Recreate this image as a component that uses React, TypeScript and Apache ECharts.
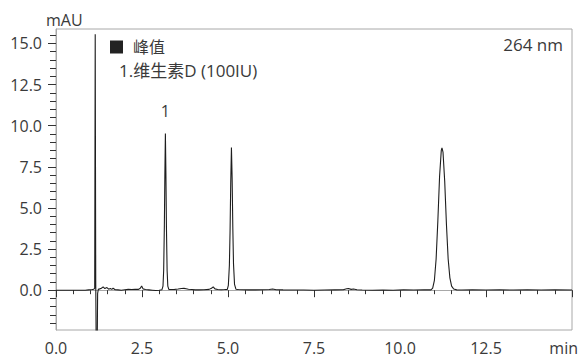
import React, { useEffect, useRef } from "react";
import * as echarts from "echarts";

// Retention time (min) and absorbance (mAU) of the chromatogram trace
const times = [
  0.0, 0.4, 0.85, 0.95, 1.05, 1.1, 1.125, 1.14, 1.155, 1.17, 1.18, 1.195, 1.21, 1.23,
  1.27, 1.32, 1.37, 1.42, 1.48, 1.53, 1.58, 1.62, 1.66, 1.72, 1.8, 1.9, 2.0, 2.1,
  2.2, 2.3, 2.4, 2.45, 2.49, 2.53, 2.6, 2.7, 2.8, 2.9, 3.0, 3.08, 3.11, 3.13,
  3.15, 3.165, 3.18, 3.195, 3.21, 3.23, 3.25, 3.28, 3.35, 3.45, 3.55, 3.65, 3.72, 3.78,
  3.85, 3.95, 4.05, 4.15, 4.3, 4.45, 4.52, 4.57, 4.62, 4.7, 4.8, 4.9, 4.98, 5.01,
  5.04, 5.06, 5.08, 5.1, 5.12, 5.14, 5.16, 5.19, 5.23, 5.3, 5.45, 5.6, 5.8, 6.0,
  6.2, 6.3, 6.4, 6.6, 6.9, 7.2, 7.5, 7.8, 8.1, 8.35, 8.45, 8.5, 8.58, 8.65,
  8.75, 8.9, 9.2, 9.5, 9.8, 10.1, 10.4, 10.7, 10.9, 10.95, 11.0, 11.05, 11.1, 11.15,
  11.2, 11.22, 11.25, 11.3, 11.35, 11.4, 11.45, 11.5, 11.56, 11.65, 11.8, 12.1, 12.5, 12.9,
  13.3, 13.7, 14.1, 14.5, 15.0,
];
const absorbance = [
  0.0, 0.0, 0.0, 0.02, 0.04, 0.06, 0.12, 15.56, 0.6, -4.0, -4.0, -4.0, -0.2, 0.05,
  0.08, 0.12, 0.2, 0.1, 0.16, 0.06, 0.1, 0.05, 0.12, 0.03, 0.02, 0.0, 0.03, 0.05,
  0.04, 0.06, 0.05, 0.12, 0.26, 0.08, 0.04, 0.02, 0.0, -0.02, 0.0, 0.03, 0.25, 1.2,
  3.9, 7.1, 9.53, 7.1, 3.9, 1.2, 0.25, 0.05, 0.04, 0.05, 0.07, 0.1, 0.11, 0.09,
  0.06, 0.04, 0.02, 0.02, 0.03, 0.05, 0.12, 0.2, 0.08, 0.04, 0.03, 0.04, 0.05, 0.3,
  1.5, 3.6, 6.6, 8.67, 6.8, 3.8, 1.6, 0.35, 0.06, 0.04, 0.03, 0.02, 0.02, 0.03,
  0.04, 0.07, 0.03, 0.02, 0.01, 0.01, 0.0, 0.01, 0.02, 0.03, 0.09, 0.1, 0.05, 0.07,
  0.03, 0.01, 0.0, 0.01, 0.0, 0.02, 0.01, 0.02, 0.02, 0.12, 0.6, 1.9, 4.2, 6.9,
  8.5, 8.65, 8.4, 6.6, 4.0, 1.9, 0.75, 0.25, 0.07, 0.02, 0.01, 0.02, 0.01, 0.02,
  0.01, 0.02, 0.01, 0.02, 0.01,
];

const seriesName = "峰值";
const compoundLabel = "1.维生素D (100IU)";
const wavelengthLabel = "264 nm";
const yUnit = "mAU";

const peakLabels = ["1"];
const peakLabelTimes = [3.18];
const peakLabelValues = [9.53];

const xTickValues = [0, 2.5, 5, 7.5, 10, 12.5, 15];
const xTickLabels = ["0.0", "2.5", "5.0", "7.5", "10.0", "12.5", "min"];
const yTickValues = [0, 2.5, 5, 7.5, 10, 12.5, 15];
const yTickLabels = ["0.0", "2.5", "5.0", "7.5", "10.0", "12.5", "15.0"];
const yMinorTickValues = [
  -2, -1.5, -1, -0.5, 0.5, 1, 1.5, 2, 3, 3.5, 4, 4.5, 5.5, 6, 6.5, 7, 8, 8.5, 9, 9.5,
  10.5, 11, 11.5, 12, 13, 13.5, 14, 14.5, 15.5,
];

const FONT = "'Open Sans', 'Noto Sans CJK SC', sans-serif";
const TEXT = "#3a3a3a";
const BOX = "#a8a8a8";
const TICK = "#333333";

export default function App() {
  const ref = useRef<HTMLDivElement>(null);

  useEffect(() => {
    if (!ref.current) return;
    const chart = echarts.init(ref.current, null, { renderer: "svg" });
    const data = times.map((t, i) => [t, absorbance[i]]);
    const yMin = -2.42;
    const yMax = 15.88;

    chart.setOption({
      animation: false,
      backgroundColor: "#ffffff",
      textStyle: { fontFamily: FONT },
      grid: { left: 56, right: 8, top: 29, bottom: 26, show: true, borderColor: BOX, borderWidth: 1 },
      legend: {
        show: true,
        left: 110,
        top: 39,
        padding: 0,
        itemWidth: 13,
        itemHeight: 13,
        icon: "rect",
        data: [{ name: seriesName, textStyle: { color: TEXT } }],
        textStyle: { fontSize: 16, lineHeight: 16, color: TEXT, fontFamily: FONT, padding: [0, 0, 0, 5] },
      },
      xAxis: {
        type: "value",
        min: 0,
        max: 15,
        interval: 2.5,
        axisLine: { show: true, lineStyle: { color: BOX, width: 1 } },
        axisTick: { show: true, length: 7, lineStyle: { color: TICK } },
        minorTick: { show: true, splitNumber: 5, length: 4, lineStyle: { color: TICK } },
        splitLine: { show: false },
        axisLabel: {
          margin: 11,
          fontSize: 16,
          lineHeight: 14,
          color: TEXT,
          fontFamily: FONT,
          formatter: (v: number) => {
            const i = xTickValues.indexOf(v);
            if (i < 0 || i === xTickValues.length - 1) return "";
            return xTickLabels[i];
          },
        },
      },
      yAxis: [
        {
          type: "value",
          min: yMin,
          max: yMax,
          position: "left",
          axisLine: { show: true, lineStyle: { color: BOX, width: 1 } },
          axisTick: { show: true, length: 8, customValues: yTickValues, lineStyle: { color: TICK } },
          splitLine: { show: false },
          axisLabel: {
            margin: 14,
            fontSize: 16,
            color: TEXT,
            fontFamily: FONT,
            customValues: yTickValues,
            formatter: (v: number) => {
              const i = yTickValues.indexOf(v);
              return i < 0 ? "" : yTickLabels[i];
            },
          },
        },
        {
          type: "value",
          min: yMin,
          max: yMax,
          position: "left",
          axisLine: { show: false },
          axisTick: { show: true, length: 6, customValues: yMinorTickValues, lineStyle: { color: TICK } },
          splitLine: { show: false },
          axisLabel: { show: false },
        },
      ],
      series: [
        {
          name: seriesName,
          type: "line",
          data,
          showSymbol: false,
          symbol: "none",
          clip: true,
          color: "#222222",
          lineStyle: { color: "#1e1e1e", width: 1.1 },
          markPoint: {
            symbol: "circle",
            symbolSize: 0,
            data: peakLabels.map((l, i) => ({ coord: [peakLabelTimes[i], peakLabelValues[i]], value: l })),
            label: {
              show: true,
              position: "top",
              distance: 14,
              formatter: "{c}",
              fontSize: 16,
              color: TEXT,
              fontFamily: FONT,
            },
          },
        },
      ],
      graphic: [
        {
          type: "text",
          x: 46,
          y: 20,
          style: { text: yUnit, font: `16px ${FONT}`, fill: TEXT, verticalAlign: "middle", align: "left" },
        },
        {
          type: "text",
          x: 119,
          y: 70,
          style: { text: compoundLabel, font: `17px ${FONT}`, fill: TEXT, verticalAlign: "middle", align: "left" },
        },
        {
          type: "text",
          x: 563,
          y: 44,
          style: { text: wavelengthLabel, font: `17px ${FONT}`, fill: TEXT, verticalAlign: "middle", align: "right" },
        },
        {
          type: "text",
          x: 578,
          y: 348,
          style: {
            text: xTickLabels[xTickLabels.length - 1],
            font: `16px ${FONT}`,
            lineHeight: 14,
            fill: TEXT,
            verticalAlign: "middle",
            align: "right",
          },
        },
      ],
    });
    return () => chart.dispose();
  }, []);

  return (
    <div
      ref={ref}
      style={{ position: "fixed", left: 0, top: 0, width: 580, height: 356, background: "#fff" }}
    />
  );
}
